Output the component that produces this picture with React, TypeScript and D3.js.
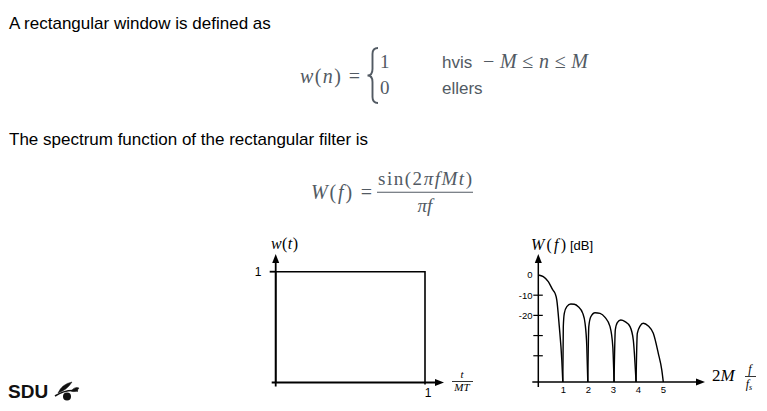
import React from 'react';
import * as d3 from 'd3';

// rectangular window w(t): corners of the drawn outline (t, w)
const windowT = [0, 0, 1, 1];
const windowW = [0, 1, 1, 0];

// spectrum |W(f)| in dB, one array per lobe (f in 2M f/fs units)
const mainLobe: [number, number][] = [
  [0, 0], [0.2, -0.8], [0.4, -3.3], [0.58, -7.4], [0.67, -9.1],
  [0.74, -12.4], [0.84, -25.6], [0.94, -42.1], [0.98, -53],
];
const sideLobe1: [number, number][] = [
  [0.98, -53], [1.0, -25.6], [1.04, -19.0], [1.14, -15.7], [1.3, -14.4],
  [1.44, -14.5], [1.6, -15.7], [1.78, -19.0], [1.87, -23.9], [1.94, -35.5], [1.98, -53],
];
const sideLobe2: [number, number][] = [
  [1.98, -53], [2.02, -25.6], [2.1, -20.7], [2.27, -18.7], [2.47, -19.0],
  [2.67, -21.0], [2.87, -25.6], [2.98, -35.5], [3.03, -53],
];
const sideLobe3: [number, number][] = [
  [3.03, -53], [3.08, -27.2], [3.16, -23.6], [3.3, -22.3], [3.47, -23.1],
  [3.67, -25.6], [3.8, -32.2], [3.91, -53],
];
const sideLobe4: [number, number][] = [
  [3.91, -53], [3.96, -28.9], [4.07, -25.3], [4.2, -23.9], [4.4, -25.3],
  [4.6, -28.9], [4.8, -38.8], [4.94, -47.1], [5.0, -53],
];
const lobes = [mainLobe, sideLobe1, sideLobe2, sideLobe3, sideLobe4];

const dbTicks = [0, -10, -20, -30, -40];
const dbTickLabels = ['0', '-10', '-20', '', ''];
const freqTicks = [1, 2, 3, 4, 5];

const MATH = '"Liberation Serif", "Times New Roman", serif';
const SANS = '"Liberation Sans", Arial, sans-serif';
const GREY = '#525a63';

function Arrow({ x, y, dir }: { x: number; y: number; dir: 'up' | 'right' }) {
  const p = dir === 'up'
    ? `${x},${y} ${x - 3.5},${y + 9} ${x + 3.5},${y + 9}`
    : `${x},${y} ${x - 9},${y - 3.5} ${x - 9},${y + 3.5}`;
  return <polygon points={p} fill="#000" />;
}

export default function App() {
  // left chart scales
  const tx = d3.scaleLinear().domain([0, 1]).range([275.7, 425]);
  const wy = d3.scaleLinear().domain([0, 1]).range([382.5, 271.7]);

  // right chart scales
  const fx = d3.scaleLinear().domain([0, 5]).range([538.3, 663.3]);
  const dy = d3.scaleLinear().domain([-53, 0]).range([382, 275]);

  const rectLine = d3.line<number>()
    .x(i => tx(windowT[i]))
    .y(i => wy(windowW[i]));

  const lobeLine = d3.line<[number, number]>()
    .x(d => fx(d[0]))
    .y(d => dy(d[1]))
    .curve(d3.curveMonotoneX);

  const x0 = tx(0);
  const y0 = wy(0);
  const fx0 = fx(0);
  const fy0 = dy(-53);

  return (
    <svg width={767} height={411} style={{ position: 'absolute', left: 0, top: 0, background: '#fff' }}>
      {/* text lines */}
      <text x={9} y={29} fontFamily={SANS} fontSize={17} fill="#000">A rectangular window is defined as</text>
      <text x={9} y={145} fontFamily={SANS} fontSize={17} fill="#000">The spectrum function of the rectangular filter is</text>

      {/* w(n) definition */}
      <text x={300} y={83} fontFamily={MATH} fontSize={20} fill={GREY} textLength={60} lengthAdjust="spacing">
        <tspan fontStyle="italic">w</tspan>(<tspan fontStyle="italic">n</tspan>) =
      </text>
      <path d="M 378 48 Q 372.5 48 372.5 54 L 372.5 69 Q 372.5 75.5 367.5 75.5 Q 372.5 75.5 372.5 82 L 372.5 97 Q 372.5 103 378 103"
        fill="none" stroke={GREY} strokeWidth={1.9} />
      <text x={380} y={68} fontFamily={MATH} fontSize={19} fill={GREY}>1</text>
      <text x={380} y={94} fontFamily={MATH} fontSize={19} fill={GREY}>0</text>
      <text x={442} y={68} fontFamily={SANS} fontSize={17} fill={GREY}>hvis</text>
      <text x={483} y={68} fontFamily={MATH} fontSize={20} fill={GREY} textLength={105} lengthAdjust="spacing">
        {'\u2212 '}<tspan fontStyle="italic">M</tspan>{' \u2264 '}<tspan fontStyle="italic">n</tspan>{' \u2264 '}<tspan fontStyle="italic">M</tspan>
      </text>
      <text x={442} y={94} fontFamily={SANS} fontSize={17} fill={GREY}>ellers</text>

      {/* W(f) definition */}
      <text x={311} y={199} fontFamily={MATH} fontSize={20} fill={GREY} textLength={61} lengthAdjust="spacing">
        <tspan fontStyle="italic">W</tspan>(<tspan fontStyle="italic">f</tspan>) =
      </text>
      <text x={378} y={185} fontFamily={MATH} fontSize={19} fill={GREY} textLength={94} lengthAdjust="spacing">
        sin(2<tspan fontStyle="italic">{'\u03c0'}fMt</tspan>)
      </text>
      <line x1={377} x2={473} y1={192.3} y2={192.3} stroke={GREY} strokeWidth={1.1} />
      <text x={425} y={212} fontFamily={MATH} fontSize={19} fill={GREY} textAnchor="middle" fontStyle="italic">{'\u03c0f'}</text>

      {/* left chart: w(t) */}
      <g stroke="#000" strokeWidth={1.8} fill="none">
        <line x1={x0} x2={x0} y1={y0 + 4} y2={262} />
        <line x1={x0 - 4} x2={436} y1={y0} y2={y0} />
        <line x1={x0 - 6} x2={x0} y1={wy(1)} y2={wy(1)} />
        <path d={rectLine(d3.range(windowT.length)) || ''} strokeWidth={1.6} />
        <line x1={tx(1)} x2={tx(1)} y1={y0} y2={y0 + 2} strokeWidth={1.6} />
      </g>
      <Arrow x={x0} y={254} dir="up" />
      <Arrow x={444} y={y0} dir="right" />
      <text x={258} y={276} fontFamily={SANS} fontSize={12} textAnchor="middle">1</text>
      <text x={428} y={397} fontFamily={SANS} fontSize={12} textAnchor="middle">1</text>
      <text x={271} y={249} fontFamily={MATH} fontSize={16} textLength={27} lengthAdjust="spacing">
        <tspan fontStyle="italic">w</tspan>(<tspan fontStyle="italic">t</tspan>)
      </text>
      <text x={462} y={378} fontFamily={MATH} fontSize={11} fontStyle="italic" textAnchor="middle">t</text>
      <line x1={452} x2={473} y1={381.5} y2={381.5} stroke="#000" strokeWidth={0.8} />
      <text x={462} y={391} fontFamily={MATH} fontSize={11} fontStyle="italic" textAnchor="middle">MT</text>

      {/* right chart: W(f) in dB */}
      <g stroke="#000" strokeWidth={1.5} fill="none">
        <line x1={fx0} x2={fx0} y1={fy0 + 5} y2={262} />
        <line x1={fx0 - 6} x2={697} y1={fy0} y2={fy0} />
        {dbTicks.filter(d => d !== 0).map(d => (
          <line key={d} x1={fx0 - 5} x2={fx0 + 4.5} y1={dy(d)} y2={dy(d)} strokeWidth={1.2} />
        ))}
        {lobes.map((l, i) => (
          <path key={i} d={lobeLine(l) || ''} strokeWidth={1.4} />
        ))}
      </g>
      <Arrow x={fx0} y={254} dir="up" />
      <Arrow x={705} y={fy0} dir="right" />
      {dbTicks.map((d, i) => (
        <text key={d} x={532.5} y={dy(d)} dy="0.35em" fontFamily={SANS} fontSize={9.5} textAnchor="end">{dbTickLabels[i]}</text>
      ))}
      {freqTicks.map(f => (
        <text key={f} x={fx(f)} y={392.5} fontFamily={SANS} fontSize={9.5} textAnchor="middle">{f}</text>
      ))}
      <text x={531} y={250} fontFamily={MATH} fontSize={16} textLength={35} lengthAdjust="spacing">
        <tspan fontStyle="italic">W</tspan>(<tspan fontStyle="italic">f</tspan>)
      </text>
      <text x={570} y={250} fontFamily={SANS} fontSize={13}>[dB]</text>
      <text x={712} y={381} fontFamily={MATH} fontSize={17}>
        2<tspan fontStyle="italic">M</tspan>
      </text>
      <text x={750} y={373} fontFamily={MATH} fontSize={12} fontStyle="italic" textAnchor="middle">f</text>
      <line x1={745} x2={756} y1={376.5} y2={376.5} stroke="#000" strokeWidth={0.8} />
      <text x={749} y={388} fontFamily={MATH} fontSize={12} fontStyle="italic" textAnchor="middle">
        f<tspan fontSize={8} dy={2}>s</tspan>
      </text>

      {/* SDU logo */}
      <text x={8} y={398} fontFamily={SANS} fontSize={19} fontWeight="bold" fill="#111">SDU</text>
      <g fill="#111" stroke="#111">
        <path d="M 55 396 Q 66 389 78 391" fill="none" strokeWidth={1.6} />
        <path d="M 58 393 Q 62 384 72 382 Q 67 390 58 393 Z" strokeWidth={0.5} />
        <path d="M 71 391 Q 75 386 79 388 Q 76 393 71 391 Z" strokeWidth={0.5} />
        <circle cx={67} cy={396.5} r={4} stroke="none" />
      </g>
    </svg>
  );
}
